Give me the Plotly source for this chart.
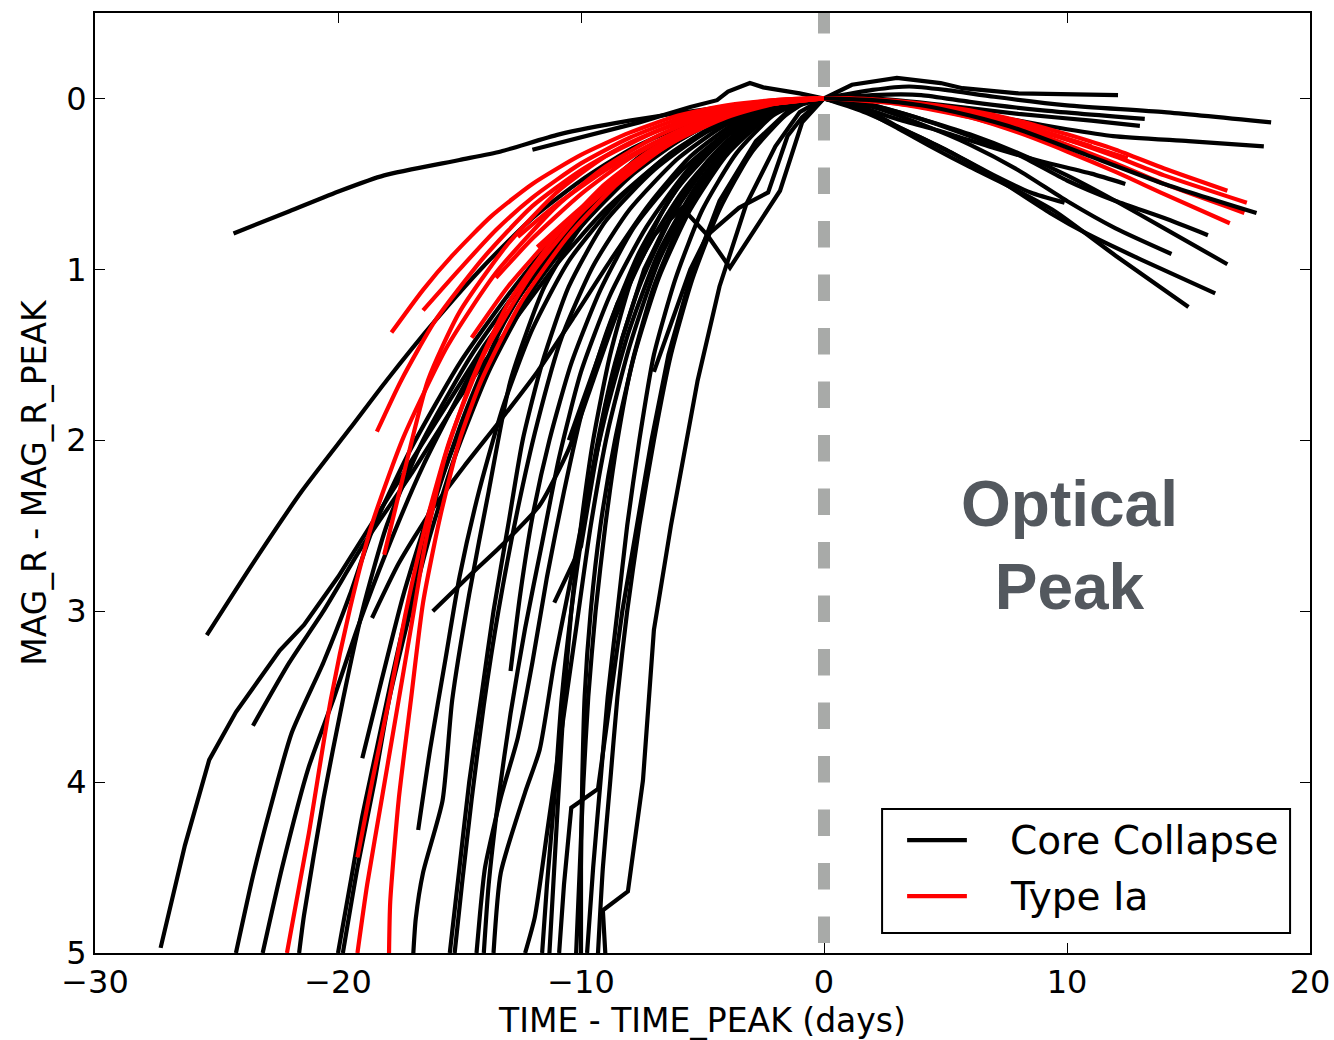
import plotly.graph_objects as go

# ---------------- data: (days from peak, MAG_R - MAG_R_PEAK) ----------------
# Core collapse light curves (rise)
CC01 = [(-24.3, 0.79), (-22.0, 0.66), (-19.9, 0.54), (-18.1, 0.45), (-15.0, 0.36), (-13.3, 0.31),
        (-10.9, 0.21), (-8.0, 0.13), (-4.7, 0.06), (-2.0, 0.015), (0, 0)]
CC02 = [(-25.4, 3.14), (-23.5, 2.72), (-21.5, 2.3), (-19.5, 1.93), (-18.0, 1.65), (-16.0, 1.3),
        (-14.0, 0.98), (-12.0, 0.7), (-10.0, 0.48), (-8.0, 0.3), (-6.0, 0.17), (-4.0, 0.07), (-2.0, 0.02), (0, 0)]
CC03 = [(-27.3, 4.97), (-26.3, 4.37), (-25.3, 3.87), (-24.2, 3.59), (-22.4, 3.23), (-21.4, 3.08),
        (-20.0, 2.8), (-18.0, 2.35), (-16.0, 1.9), (-14.0, 1.45), (-12.0, 1.05), (-10.0, 0.7),
        (-8.0, 0.43), (-6.0, 0.23), (-4.0, 0.09), (-2.0, 0.02), (0, 0)]
CC04 = [(-23.5, 3.67), (-22.0, 3.3), (-20.6, 3.0), (-19.0, 2.62), (-17.0, 2.2), (-15.0, 1.75),
        (-13.0, 1.35), (-11.0, 0.97), (-9.0, 0.65), (-7.0, 0.4), (-5.0, 0.2), (-3.0, 0.07), (0, 0)]
CC05 = [(-24.2, 5.0), (-23.5, 4.55), (-22.8, 4.16), (-21.9, 3.71), (-20.6, 3.3), (-19.5, 2.9),
        (-18.6, 2.53), (-17.0, 2.05), (-15.0, 1.55), (-13.0, 1.15), (-11.0, 0.8), (-9.0, 0.52),
        (-7.0, 0.3), (-5.0, 0.15), (-3.0, 0.05), (0, 0)]
CC06 = [(-23.1, 5.0), (-22.3, 4.5), (-21.2, 3.91), (-20.2, 3.52), (-19.2, 3.1), (-18.0, 2.65),
        (-16.5, 2.15), (-14.5, 1.6), (-12.5, 1.15), (-10.5, 0.78), (-8.5, 0.5), (-6.5, 0.29),
        (-4.5, 0.13), (-2.5, 0.04), (0, 0)]
CC07 = [(-21.6, 5.0), (-21.4, 4.78), (-20.6, 4.1), (-19.8, 3.52), (-19.0, 3.0), (-18.0, 2.5),
        (-16.5, 2.0), (-14.5, 1.5), (-12.5, 1.1), (-10.5, 0.75), (-8.5, 0.48), (-6.5, 0.28),
        (-4.5, 0.12), (-2.5, 0.04), (0, 0)]
CC08 = [(-20.0, 5.0), (-19.5, 4.6), (-19.0, 4.2), (-18.4, 3.8), (-17.8, 3.4), (-17.0, 2.9),
        (-16.0, 2.35), (-14.8, 1.85), (-13.3, 1.35), (-11.5, 0.92), (-9.5, 0.58), (-7.5, 0.33),
        (-5.5, 0.16), (-3.5, 0.06), (-1.5, 0.01), (0, 0)]
CC09 = [(-19.8, 5.0), (-19.2, 4.5), (-18.5, 4.0), (-17.9, 3.52), (-17.2, 3.1), (-16.3, 2.6),
        (-15.2, 2.1), (-13.8, 1.6), (-12.0, 1.12), (-10.0, 0.72), (-8.0, 0.43), (-6.0, 0.22),
        (-4.0, 0.09), (-2.0, 0.02), (0, 0)]
CC10 = [(-19.0, 3.86), (-18.2, 3.4), (-17.3, 2.9), (-16.2, 2.4), (-15.0, 1.95), (-13.5, 1.5),
        (-12.0, 1.12), (-10.0, 0.75), (-8.0, 0.46), (-6.0, 0.25), (-4.0, 0.1), (-2.0, 0.03), (0, 0)]
CC11 = [(-18.6, 3.04), (-17.5, 2.72), (-16.2, 2.42), (-14.8, 2.15), (-13.3, 1.88), (-11.8, 1.6),
        (-10.3, 1.28), (-8.8, 0.95), (-7.2, 0.62), (-5.5, 0.34), (-3.5, 0.13), (-1.5, 0.03), (0, 0)]
CC12 = [(-16.7, 4.28), (-16.2, 3.8), (-15.6, 3.3), (-15.0, 2.8), (-14.2, 2.3), (-13.2, 1.8),
        (-12.0, 1.35), (-10.5, 0.95), (-8.5, 0.6), (-6.5, 0.34), (-4.5, 0.16), (-2.5, 0.05), (0, 0)]
CC13 = [(-12.9, 3.35), (-12.5, 2.9), (-12.0, 2.45), (-11.3, 2.0), (-10.4, 1.55), (-9.2, 1.12),
        (-7.8, 0.75), (-6.0, 0.44), (-4.0, 0.2), (-2.0, 0.05), (0, 0)]
CC14 = [(-11.1, 2.95), (-10.0, 2.62), (-9.5, 2.2), (-9.0, 1.8), (-8.3, 1.4), (-7.4, 1.0),
        (-6.2, 0.65), (-4.8, 0.37), (-3.2, 0.15), (-1.5, 0.04), (0, 0)]
CC15 = [(-16.1, 3.0), (-14.5, 2.78), (-13.3, 2.62), (-11.7, 2.38), (-10.5, 2.05), (-9.5, 1.65),
        (-8.5, 1.25), (-7.3, 0.88), (-5.8, 0.54), (-4.0, 0.25), (-2.0, 0.06), (0, 0)]
CC16 = [(-16.9, 5.0), (-16.8, 4.8), (-16.5, 4.53), (-15.7, 4.11), (-15.3, 3.52), (-14.6, 2.9),
        (-13.8, 2.3), (-12.9, 1.65), (-11.5, 1.1), (-10.0, 0.75), (-8.0, 0.45), (-6.0, 0.24),
        (-4.0, 0.1), (-2.0, 0.03), (0, 0)]
CC17 = [(-15.4, 5.0), (-15.0, 4.5), (-14.6, 4.0), (-14.1, 3.5), (-13.6, 3.0), (-13.0, 2.5),
        (-12.4, 2.0), (-11.6, 1.55), (-10.5, 1.1), (-9.0, 0.72), (-7.0, 0.42), (-5.0, 0.21),
        (-3.0, 0.08), (0, 0)]
CC18 = [(-15.2, 5.0), (-14.9, 4.6), (-14.5, 4.1), (-14.0, 3.55), (-13.4, 3.0), (-12.6, 2.4),
        (-11.8, 1.9), (-10.8, 1.4), (-9.5, 0.98), (-8.0, 0.65), (-6.0, 0.35), (-4.0, 0.15),
        (-2.0, 0.04), (0, 0)]
CC19 = [(-14.3, 5.0), (-14.15, 4.76), (-13.95, 4.5), (-13.3, 4.09), (-12.6, 3.74), (-12.0, 3.3),
        (-11.4, 2.8), (-10.7, 2.3), (-9.9, 1.8), (-8.9, 1.35), (-7.6, 0.9), (-6.0, 0.52),
        (-4.0, 0.22), (-2.0, 0.06), (0, 0)]
CC20 = [(-14.0, 5.0), (-13.8, 4.6), (-13.4, 4.1), (-12.9, 3.6), (-12.3, 3.1), (-11.6, 2.6),
        (-10.9, 2.1), (-10.0, 1.6), (-8.8, 1.15), (-7.3, 0.75), (-5.5, 0.4), (-3.5, 0.15),
        (-1.5, 0.03), (0, 0)]
CC21 = [(-13.6, 5.0), (-13.3, 4.53), (-12.3, 4.06), (-11.7, 3.81), (-11.1, 3.3), (-10.4, 2.8),
        (-9.7, 2.3), (-8.9, 1.8), (-8.0, 1.35), (-6.8, 0.9), (-5.2, 0.5), (-3.5, 0.2),
        (-1.5, 0.04), (0, 0)]
CC22 = [(-12.3, 5.0), (-11.9, 4.79), (-11.4, 4.3), (-10.8, 3.7), (-10.2, 3.1), (-9.6, 2.5),
        (-8.9, 1.95), (-8.0, 1.45), (-6.8, 0.95), (-5.3, 0.55), (-3.5, 0.22), (-1.5, 0.04), (0, 0)]
CC23 = [(-11.6, 5.0), (-11.4, 4.6), (-11.1, 4.1), (-10.8, 3.52), (-10.4, 3.0), (-9.9, 2.5),
        (-9.3, 2.0), (-8.6, 1.55), (-7.6, 1.1), (-6.3, 0.7), (-4.7, 0.37), (-3.0, 0.14),
        (-1.5, 0.03), (0, 0)]
CC24 = [(-11.3, 5.0), (-11.1, 4.5), (-10.9, 4.0), (-10.7, 3.52), (-10.4, 3.0), (-10.0, 2.5),
        (-9.5, 2.0), (-8.8, 1.5), (-7.9, 1.05), (-6.6, 0.65), (-5.0, 0.33), (-3.2, 0.12),
        (-1.5, 0.03), (0, 0)]
CC25 = [(-10.9, 5.0), (-10.7, 4.6), (-10.4, 4.15), (-9.3, 4.04), (-8.8, 3.52), (-8.3, 3.0),
        (-7.7, 2.5), (-7.1, 2.0), (-6.4, 1.5), (-5.5, 1.05), (-4.3, 0.6), (-2.8, 0.25),
        (-1.3, 0.05), (0, 0)]
CC26 = [(-10.2, 5.0), (-10.05, 4.5), (-9.9, 4.0), (-9.7, 3.5), (-9.4, 3.0), (-9.0, 2.5),
        (-8.5, 2.0), (-7.9, 1.55), (-7.0, 1.1), (-5.8, 0.7), (-4.3, 0.37), (-2.7, 0.14),
        (-1.2, 0.03), (0, 0)]
CC27 = [(-10.0, 5.0), (-10.0, 4.5), (-9.95, 4.0), (-9.85, 3.5), (-9.6, 3.0), (-9.2, 2.5),
        (-8.6, 2.0), (-7.8, 1.5), (-6.8, 1.05), (-5.5, 0.65), (-4.0, 0.33), (-2.4, 0.12),
        (-1.0, 0.02), (0, 0)]
CC28 = [(-9.75, 5.0), (-9.5, 4.5), (-9.2, 4.0), (-8.9, 3.5), (-8.5, 3.0), (-8.1, 2.5),
        (-7.6, 2.0), (-7.0, 1.5), (-6.1, 1.05), (-5.0, 0.65), (-3.6, 0.32), (-2.1, 0.1),
        (-0.9, 0.02), (0, 0)]
CC29 = [(-9.3, 5.0), (-9.1, 4.5), (-8.8, 4.0), (-8.5, 3.5), (-8.1, 3.0), (-7.6, 2.5),
        (-7.0, 2.0), (-6.3, 1.5), (-5.4, 1.05), (-4.3, 0.65), (-3.0, 0.32), (-1.6, 0.1),
        (-0.7, 0.02), (0, 0)]
CC30 = [(-9.0, 5.0), (-9.1, 4.75), (-8.07, 4.64), (-7.45, 3.99), (-7.0, 3.11), (-6.3, 2.5),
        (-5.2, 1.65), (-4.3, 1.1), (-3.2, 0.62), (-2.0, 0.28), (-1.0, 0.08), (0, 0)]
CC31 = [(-12.0, 0.3), (-9.5, 0.21), (-7.6, 0.14), (-5.5, 0.05), (-4.4, 0.01), (-3.95, -0.04),
        (-3.05, -0.09), (-2.5, -0.065), (-1.0, -0.03), (0, 0), (1.15, -0.08), (3.0, -0.12),
        (4.8, -0.09), (5.7, -0.06), (8.0, -0.03), (12.1, -0.02)]
CC32 = [(-10.5, 2.0), (-8.5, 1.2), (-7.0, 0.8), (-5.84, 0.64), (-4.8, 0.8), (-3.87, 0.99),
        (-1.81, 0.54), (-0.9, 0.14), (0, 0)]
CC33 = [(-7.0, 1.6), (-5.5, 1.0), (-4.8, 0.8), (-3.5, 0.64), (-2.3, 0.55), (-1.5, 0.22),
        (-0.9, 0.11), (0, 0)]

# Core collapse light curves (decline)
CP01 = [(0, 0), (2.0, -0.05), (3.5, -0.07), (5.0, -0.05), (7.0, -0.01), (10.0, 0.04), (14.0, 0.08), (18.4, 0.14)]
CP02 = [(0, 0), (2.0, -0.02), (4.0, -0.02), (6.0, 0.02), (9.0, 0.07), (13.2, 0.12)]
CP03 = [(0, 0), (2.0, 0.01), (4.0, 0.04), (6.0, 0.08), (8.0, 0.13), (10.0, 0.18), (11.9, 0.22), (15.0, 0.25), (18.1, 0.28)]
CP04 = [(0, 0), (1.5, 0.05), (3.0, 0.12), (5.0, 0.2), (7.0, 0.29), (9.0, 0.37), (11.0, 0.44), (12.4, 0.5)]
CP05 = [(0, 0), (1.5, 0.07), (3.1, 0.17), (5.0, 0.3), (7.0, 0.45), (8.5, 0.55), (9.9, 0.61)]
CP06 = [(0, 0), (2.0, 0.04), (4.0, 0.12), (6.0, 0.22), (8.0, 0.33), (10.0, 0.48), (12.0, 0.6), (14.0, 0.7), (15.8, 0.8)]
CP07 = [(0, 0), (2.0, 0.05), (4.0, 0.15), (6.0, 0.27), (8.0, 0.42), (10.0, 0.6), (12.0, 0.76), (14.3, 0.91)]
CP08 = [(0, 0), (2.0, 0.04), (4.0, 0.12), (6.0, 0.21), (8.0, 0.32), (10.0, 0.45), (12.0, 0.6), (14.0, 0.76), (16.6, 0.97)]
CP09 = [(0, 0), (1.8, 0.07), (3.1, 0.17), (5.0, 0.3), (7.0, 0.46), (9.3, 0.67), (10.8, 0.79), (13.0, 0.94), (16.1, 1.14)]
CP10 = [(0, 0), (1.5, 0.06), (3.1, 0.18), (4.5, 0.29), (6.0, 0.4), (7.7, 0.52), (9.5, 0.66), (12.0, 0.92), (15.0, 1.22)]
CP11 = [(0, 0), (2.0, 0.01), (4.0, 0.04), (6.0, 0.1), (8.0, 0.18), (10.8, 0.33), (14.0, 0.5), (17.8, 0.67)]
CP12 = [(0, 0), (2.0, 0.0), (5.0, 0.04), (8.0, 0.09), (11.0, 0.13), (13.0, 0.16)]

# Type Ia light curves
IA01 = [(-17.8, 1.37), (-16.5, 1.12), (-15.3, 0.92), (-13.7, 0.69), (-12.0, 0.5), (-10.0, 0.33),
        (-8.0, 0.2), (-6.0, 0.1), (-4.0, 0.04), (-2.0, 0.01), (0, 0), (2.0, 0.005), (4.0, 0.03),
        (6.0, 0.07), (8.0, 0.13), (10.0, 0.21), (12.0, 0.3), (14.0, 0.41), (16.6, 0.54)]
IA02 = [(-16.5, 1.24), (-15.0, 1.0), (-13.5, 0.77), (-12.0, 0.58), (-10.0, 0.38), (-8.0, 0.23),
        (-6.0, 0.12), (-4.0, 0.05), (-2.0, 0.01), (0, 0), (2.0, 0.01), (4.0, 0.035), (6.0, 0.08),
        (8.0, 0.15), (10.0, 0.24), (12.0, 0.34), (14.0, 0.45), (17.4, 0.61)]
IA03 = [(-18.4, 1.95), (-17.4, 1.65), (-16.0, 1.3), (-14.0, 0.93), (-12.0, 0.63), (-10.0, 0.42),
        (-8.0, 0.26), (-6.0, 0.14), (-4.0, 0.06), (-2.0, 0.015), (0, 0), (2.0, 0.01), (4.0, 0.04),
        (6.0, 0.09), (8.0, 0.17), (10.0, 0.27), (12.0, 0.38), (14.0, 0.5), (17.3, 0.67)]
IA04 = [(-18.1, 2.67), (-17.3, 2.2), (-16.3, 1.65), (-15.0, 1.25), (-13.0, 0.85), (-11.0, 0.55),
        (-9.0, 0.34), (-7.0, 0.2), (-5.0, 0.1), (-3.0, 0.04), (0, 0), (2.0, 0.015), (4.0, 0.05),
        (6.0, 0.11), (8.0, 0.2), (10.0, 0.31), (12.0, 0.43), (14.0, 0.56), (16.7, 0.73)]
IA05 = [(-22.1, 5.0), (-21.2, 4.3), (-20.3, 3.52), (-19.5, 2.98), (-18.6, 2.49), (-17.3, 1.98),
        (-15.5, 1.45), (-13.5, 1.02), (-11.0, 0.63), (-9.0, 0.4), (-7.0, 0.23), (-5.0, 0.11),
        (-3.0, 0.04), (0, 0), (3.0, 0.02), (6.0, 0.1), (9.0, 0.22)]
IA06 = [(-19.2, 4.44), (-18.6, 4.0), (-17.9, 3.52), (-17.2, 3.0), (-16.4, 2.5), (-15.4, 2.0),
        (-14.0, 1.5), (-12.0, 1.02), (-10.0, 0.67), (-8.0, 0.42), (-6.0, 0.23), (-4.0, 0.1),
        (-2.0, 0.025), (0, 0), (3.0, 0.02), (6.0, 0.09), (10.0, 0.24), (12.5, 0.35)]
IA07 = [(-19.2, 5.0), (-18.8, 4.6), (-18.2, 4.1), (-17.6, 3.6), (-17.0, 3.1), (-16.4, 2.6),
        (-15.6, 2.1), (-14.5, 1.65), (-13.0, 1.2), (-11.0, 0.8), (-9.0, 0.5), (-7.0, 0.29),
        (-5.0, 0.14), (-3.0, 0.05), (0, 0)]
IA08 = [(-17.9, 5.0), (-17.85, 4.7), (-17.5, 4.1), (-17.0, 3.52), (-16.5, 2.95), (-15.8, 2.45),
        (-15.0, 2.0), (-14.1, 1.65), (-12.5, 1.2), (-10.5, 0.8), (-8.5, 0.5), (-6.5, 0.28),
        (-4.5, 0.13), (-2.5, 0.04), (0, 0)]
IA09 = [(-13.5, 1.05), (-12.0, 0.82), (-10.0, 0.56), (-8.0, 0.35), (-6.0, 0.19), (-4.0, 0.08),
        (-2.0, 0.02), (0, 0), (3.0, 0.03), (6.0, 0.11), (9.0, 0.23)]
IA10 = [(-12.6, 0.81), (-11.0, 0.62), (-9.0, 0.42), (-7.0, 0.26), (-5.0, 0.13), (-3.0, 0.05), (0, 0)]
IA11 = [(-11.8, 0.87), (-10.0, 0.64), (-8.0, 0.42), (-6.0, 0.24), (-4.0, 0.11), (-2.0, 0.03),
        (0, 0), (2.0, 0.01), (5.0, 0.06), (8.0, 0.15), (11.0, 0.28)]
IA12 = [(-14.5, 1.4), (-13.0, 1.1), (-11.0, 0.78), (-9.0, 0.52), (-7.0, 0.31), (-5.0, 0.15),
        (-3.0, 0.05), (0, 0)]

CC_SMOOTH = [CC01, CC02, CC04, CC05, CC06, CC07, CC08, CC09, CC10, CC11, CC12, CC13, CC15, CC16,
             CC17, CC18, CC19, CC20, CC21, CC22, CC23, CC24, CC26, CC27, CC28, CC29,
             CP01, CP02, CP03, CP04, CP05, CP06, CP07, CP08, CP09, CP10, CP12]
CC_KINKED = [CC03, CC14, CC25, CC30, CC31, CC32, CC33]
CC_ON_TOP = [CP11]
IA_CURVES = [IA01, IA02, IA03, IA04, IA05, IA06, IA07, IA08, IA09, IA10, IA11, IA12]

X_TICKS = [-30, -20, -10, 0, 10, 20]
X_TICK_TEXT = ["\u221230", "\u221220", "\u221210", "0", "10", "20"]
Y_TICKS = [0, 1, 2, 3, 4, 5]
Y_TICK_TEXT = ["0", "1", "2", "3", "4", "5"]
X_RANGE = [-30, 20]
Y_RANGE = [5, -0.5]

LEGEND_LABELS = ["Core Collapse", "Type Ia"]
CC_COLOR = "#000000"
IA_COLOR = "#ff0000"
LW = 4.2
FONT = "DejaVu Sans"

fig = go.Figure()


def add_curve(curve, color, shape):
    fig.add_trace(go.Scatter(
        x=[p[0] for p in curve], y=[p[1] for p in curve], mode="lines",
        line=dict(color=color, width=LW, shape=shape, smoothing=0.6 if shape == "spline" else None),
        showlegend=False, hoverinfo="skip"))


for c in CC_SMOOTH:
    add_curve(c, CC_COLOR, "spline")
for c in CC_KINKED:
    add_curve(c, CC_COLOR, "linear")
for c in IA_CURVES:
    add_curve(c, IA_COLOR, "spline")
for c in CC_ON_TOP:
    add_curve(c, CC_COLOR, "spline")

axis_common = dict(
    showline=True, linecolor="black", linewidth=1.8, mirror="ticks",
    ticks="inside", ticklen=10, tickwidth=1.2, tickcolor="black",
    showgrid=False, zeroline=False, automargin=False,
    tickfont=dict(family=FONT, size=32, color="black"),
)

fig.update_layout(
    width=1334, height=1040,
    margin=dict(l=95, r=24, t=13, b=87),
    paper_bgcolor="white", plot_bgcolor="white",
    showlegend=False,
    xaxis=dict(range=X_RANGE, tickvals=X_TICKS, ticktext=X_TICK_TEXT,
               title=dict(text="TIME - TIME_PEAK (days)", font=dict(family=FONT, size=33, color="black"),
                          standoff=12),
               **axis_common),
    yaxis=dict(range=Y_RANGE, tickvals=Y_TICKS, ticktext=Y_TICK_TEXT,
               title=dict(text="MAG_R - MAG_R_PEAK", font=dict(family=FONT, size=33, color="black"),
                          standoff=10),
               **axis_common),
)

# vertical dashed "optical peak" line
fig.add_shape(type="line", xref="x", yref="y", x0=0, x1=0, y0=4.942, y1=-0.6,
              line=dict(color="#a8aaa8", width=12, dash="26.5px,27px"), layer="above")

# annotation text
fig.add_annotation(x=10.12, y=2.614, xref="x", yref="y", text="Optical<br>Peak", showarrow=False,
                   font=dict(family="Liberation Sans", size=64, color="#53585e", weight="bold"),
                   align="center", xanchor="center", yanchor="middle")

# legend box (drawn manually to mimic the reference layout)
fig.add_shape(type="rect", xref="x", yref="y", x0=2.39, x1=19.18, y0=4.158, y1=4.883,
              line=dict(color="black", width=2), fillcolor="white", layer="above")
for ly, col, lab in [(4.34, CC_COLOR, LEGEND_LABELS[0]), (4.667, IA_COLOR, LEGEND_LABELS[1])]:
    fig.add_shape(type="line", xref="x", yref="y", x0=3.42, x1=5.88, y0=ly, y1=ly,
                  line=dict(color=col, width=LW), layer="above")
    fig.add_annotation(x=7.57, y=ly, xref="x", yref="y", text=lab, showarrow=False,
                       font=dict(family=FONT, size=39, color="black"),
                       xanchor="left", yanchor="middle")

fig.write_html("out.html")
